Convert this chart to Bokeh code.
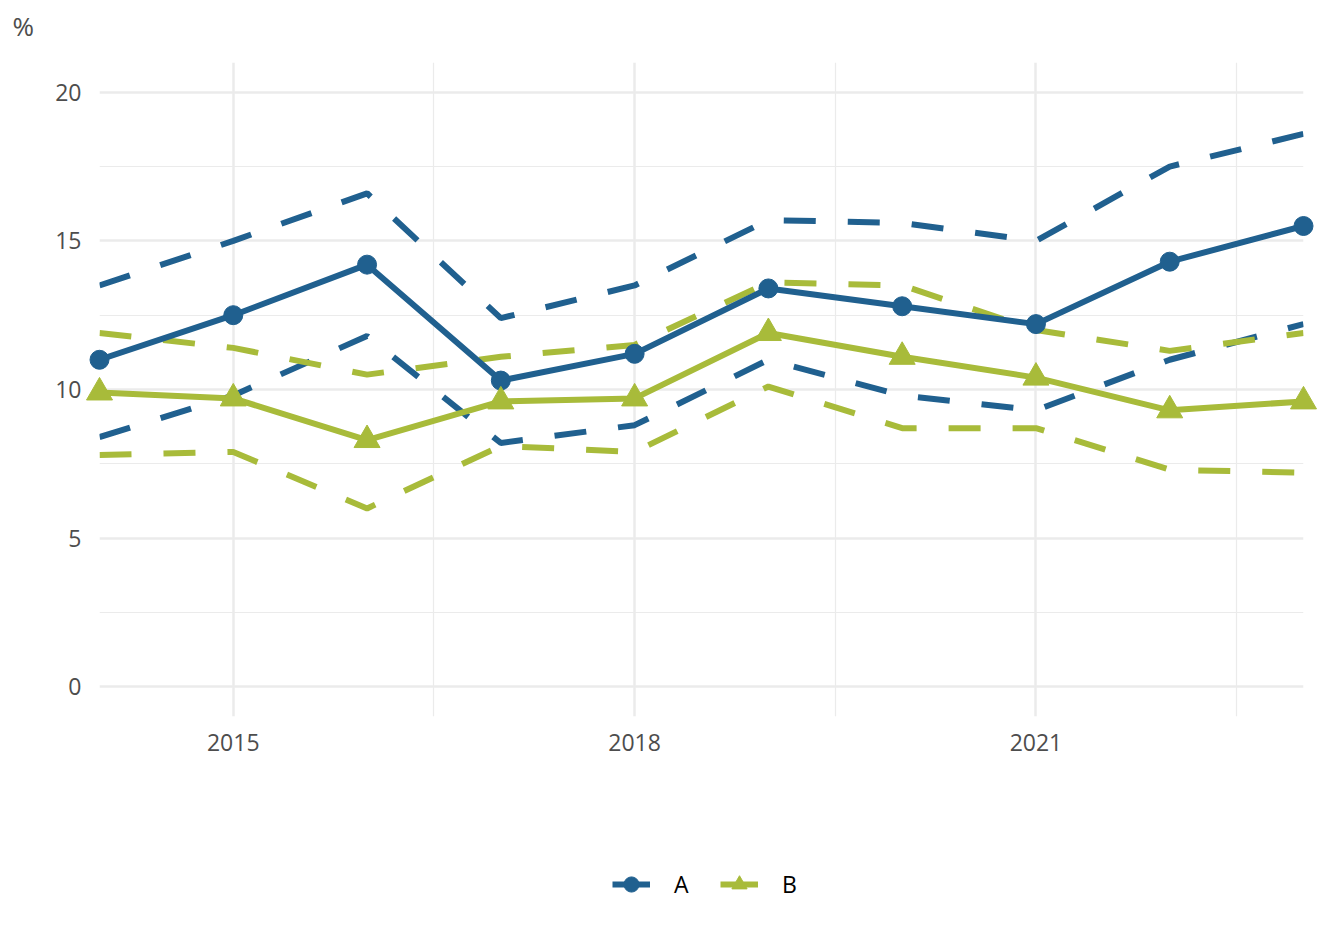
from bokeh.models import ColumnDataSource, Range1d, FixedTicker, Legend, LegendItem
from bokeh.plotting import figure
from bokeh.layouts import column
from bokeh.embed import file_html
from bokeh.resources import INLINE

years = [2014, 2015, 2016, 2017, 2018, 2019, 2020, 2021, 2022, 2023]

a_mid = [11.0, 12.5, 14.2, 10.3, 11.2, 13.4, 12.8, 12.2, 14.3, 15.5]
a_hi = [13.5, 15.0, 16.6, 12.4, 13.5, 15.7, 15.6, 15.0, 17.5, 18.6]
a_lo = [8.4, 9.8, 11.8, 8.2, 8.8, 11.0, 9.8, 9.3, 11.0, 12.2]

b_mid = [9.9, 9.7, 8.3, 9.6, 9.7, 11.9, 11.1, 10.4, 9.3, 9.6]
b_hi = [11.9, 11.4, 10.5, 11.1, 11.5, 13.6, 13.5, 12.0, 11.3, 11.9]
b_lo = [7.8, 7.9, 6.0, 8.1, 7.9, 10.1, 8.7, 8.7, 7.3, 7.2]

x_ticks = [2015, 2018, 2021]
x_minor = [2013.5, 2016.5, 2019.5, 2022.5]
y_ticks = [0, 5, 10, 15, 20]
y_minor = [2.5, 7.5, 12.5, 17.5]

BLUE = "#20608F"
GREEN = "#A8BB3A"
FONT = "Open Sans"
LW = 6


def strip(h, **kw):
    s = figure(width=1328, height=h, output_backend="svg", toolbar_location=None,
               x_range=Range1d(0, 1), y_range=Range1d(0, 1), min_border=0,
               x_axis_location=None, y_axis_location=None,
               outline_line_color=None, **kw)
    s.grid.visible = False
    return s


# top strip: unit label as the strip's title
top = strip(62, title="%", min_border_top=43)
top.title.text_font = FONT
top.title.text_font_size = "26px"
top.title.text_font_style = "normal"
top.title.text_color = "#4D4D4D"
top.title.offset = -87
top.title.standoff = 0

src = ColumnDataSource(dict(year=years, a_mid=a_mid, a_hi=a_hi, a_lo=a_lo,
                            b_mid=b_mid, b_hi=b_hi, b_lo=b_lo))

p = figure(width=1328, height=738, output_backend="svg", toolbar_location=None,
           x_range=Range1d(2014, 2023), y_range=Range1d(-1, 21), title=None,
           min_border_left=99, min_border_right=25, min_border_top=0,
           min_border_bottom=84, outline_line_color=None)

# dashed bounds
for col, c in [("a_hi", BLUE), ("a_lo", BLUE), ("b_hi", GREEN), ("b_lo", GREEN)]:
    p.line("year", col, source=src, line_color=c, line_width=LW, line_dash="32 32")

p.line("year", "a_mid", source=src, line_color=BLUE, line_width=LW)
p.scatter("year", "a_mid", source=src, marker="circle", size=19,
          fill_color=BLUE, line_color=BLUE, level="overlay")
p.line("year", "b_mid", source=src, line_color=GREEN, line_width=LW)
p.scatter("year", "b_mid", source=src, marker="triangle", size=26,
          fill_color=GREEN, line_color=GREEN, level="overlay")

p.xaxis.ticker = FixedTicker(ticks=x_ticks, minor_ticks=x_minor)
p.yaxis.ticker = FixedTicker(ticks=y_ticks, minor_ticks=y_minor)
for ax in (p.xaxis, p.yaxis):
    ax.axis_line_color = None
    ax.major_tick_line_color = None
    ax.minor_tick_line_color = None
    ax.major_label_text_font = FONT
    ax.major_label_text_font_size = "23px"
    ax.major_label_text_color = "#4D4D4D"
p.xaxis.major_label_standoff = 11
p.yaxis.major_label_standoff = 12

p.grid.grid_line_color = "#EBEBEB"
p.grid.grid_line_width = 2.5
p.grid.minor_grid_line_color = "#EBEBEB"
p.grid.minor_grid_line_width = 1.2

# legend strip under the chart; its key renderers hold the first point of
# each series, kept outside this strip's (hidden) ranges
leg = strip(124)
key_src = ColumnDataSource(dict(x=years[:1], a=a_mid[:1], b=b_mid[:1]))
ka = [leg.line("x", "a", source=key_src, line_color=BLUE, line_width=LW),
      leg.scatter("x", "a", source=key_src, marker="circle", size=19,
                  fill_color=BLUE, line_color=BLUE)]
kb = [leg.line("x", "b", source=key_src, line_color=GREEN, line_width=LW),
      leg.scatter("x", "b", source=key_src, marker="triangle", size=26,
                  fill_color=GREEN, line_color=GREEN)]
legend = Legend(items=[LegendItem(label="A", renderers=ka),
                       LegendItem(label="B", renderers=kb)],
                orientation="horizontal", location=(513, 18),
                label_text_font=FONT, label_text_font_size="23px",
                label_text_color="#000000", glyph_width=38, glyph_height=44,
                spacing=26, label_standoff=24, border_line_color=None,
                background_fill_alpha=0, padding=0, margin=0)
leg.add_layout(legend, "center")

open("out.html", "w").write(file_html(column(top, p, leg, spacing=0), INLINE))
